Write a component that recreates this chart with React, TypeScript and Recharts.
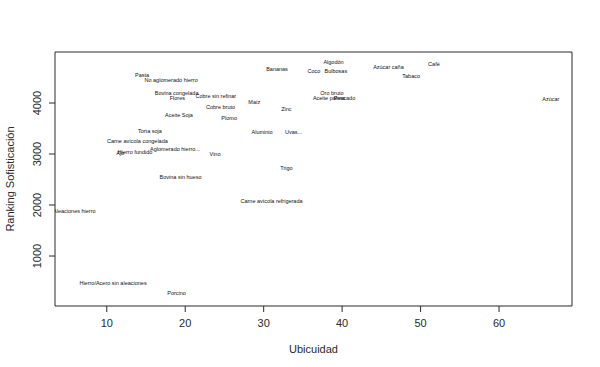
import React from "react";
import {
  ScatterChart,
  Scatter,
  XAxis,
  YAxis,
  ReferenceArea,
} from "recharts";

// productos: ubicuidad (x) vs ranking de sofisticación (y)
const productNames = [
  "Algodón", "Bananas", "Coco", "Bulbosas", "Azúcar caña", "Tabaco", "Café", "Azúcar",
  "Oro bruto", "Aceite palma", "Pescado", "Maíz", "Zinc", "Aluminio", "Uvas...", "Trigo",
  "Carne avícola refrigerada", "Pasta", "No aglomerado hierro", "Bovina congelada", "Flores",
  "Cobre sin refinar", "Cobre bruto", "Aceite Soja", "Plomo", "Torta soja",
  "Carne avícola congelada", "Ajo", "Hierro fundido", "Aglomerado hierro...", "Vino",
  "Bovina sin hueso", "Aleaciones hierro", "Hierro/Acero sin aleaciones", "Porcino",
];

const ubicuidad = [
  38.9, 31.7, 36.4, 39.2, 45.9, 48.8, 51.7, 66.6,
  38.7, 38.3, 40.3, 28.8, 32.9, 29.8, 33.8, 32.9,
  31.0, 14.5, 18.2, 18.9, 19.0,
  23.9, 24.5, 19.2, 25.6, 15.5,
  13.9, 11.7, 13.6, 18.7, 23.8,
  19.4, 5.86, 10.8, 18.9,
];

const sofisticacion = [
  4804, 4667, 4627, 4627, 4706, 4529, 4765, 4078,
  4196, 4098, 4098, 4020, 3882, 3431, 3431, 2725,
  2078, 4549, 4451, 4196, 4098,
  4137, 3922, 3765, 3706, 3451,
  3255, 3020, 3039, 3098, 3000,
  2549, 1882, 471, 275,
];

const xTicks = [10, 20, 30, 40, 50, 60];
const yTicks = [1000, 2000, 3000, 4000];

const xDomain: [number, number] = [3.4, 69.3];
const yDomain: [number, number] = [20, 5000];

const data = productNames.map((name, i) => ({
  name,
  x: ubicuidad[i],
  y: sofisticacion[i],
}));

const FONT = "'Liberation Sans', Arial, sans-serif";
const INK = "#2a2a2a";

const LabelShape = (props: any) => {
  const { cx, cy, payload } = props;
  return (
    <text
      x={cx}
      y={cy}
      textAnchor="middle"
      dominantBaseline="central"
      fontSize={5.5}
      fontFamily={FONT}
      fill="#111"
    >
      {payload.name}
    </text>
  );
};

const XTick = (props: any) => {
  const { x, y, payload } = props;
  return (
    <text x={x} y={y + 13} textAnchor="middle" fontSize={11} fontFamily={FONT} fill={INK}>
      {payload.value}
    </text>
  );
};

const YTick = (props: any) => {
  const { x, y, payload } = props;
  return (
    <text
      x={x - 6}
      y={y}
      transform={`rotate(-90, ${x - 6}, ${y})`}
      textAnchor="middle"
      fontSize={11}
      fontFamily={FONT}
      fill={INK}
    >
      {payload.value}
    </text>
  );
};

export default function App() {
  return (
    <div style={{ position: "absolute", left: 0, top: 0, width: 600, height: 367, background: "#fff" }}>
      <ScatterChart width={600} height={367} margin={{ top: 52, right: 28, bottom: 0, left: 0 }}>
        <XAxis
          type="number"
          dataKey="x"
          domain={xDomain}
          ticks={xTicks}
          allowDataOverflow
          height={61}
          axisLine={false}
          tickLine={{ stroke: INK }}
          tickSize={6}
          tick={<XTick />}
          label={{
            value: "Ubicuidad",
            position: "insideBottom",
            offset: 14,
            fontSize: 11,
            fontFamily: FONT,
            fill: INK,
          }}
        />
        <YAxis
          type="number"
          dataKey="y"
          domain={yDomain}
          ticks={yTicks}
          allowDataOverflow
          width={55}
          axisLine={false}
          tickLine={{ stroke: INK }}
          tickSize={6}
          tick={<YTick />}
          label={{
            value: "Ranking Sofisticación",
            angle: -90,
            position: "insideLeft",
            offset: 10,
            fontSize: 11,
            fontFamily: FONT,
            fill: INK,
            style: { textAnchor: "middle" },
          }}
        />
        <ReferenceArea
          x1={xDomain[0]}
          x2={xDomain[1]}
          y1={yDomain[0]}
          y2={yDomain[1]}
          fill="none"
          stroke={INK}
          strokeWidth={1}
        />
        <Scatter data={data} shape={<LabelShape />} isAnimationActive={false} />
      </ScatterChart>
    </div>
  );
}
